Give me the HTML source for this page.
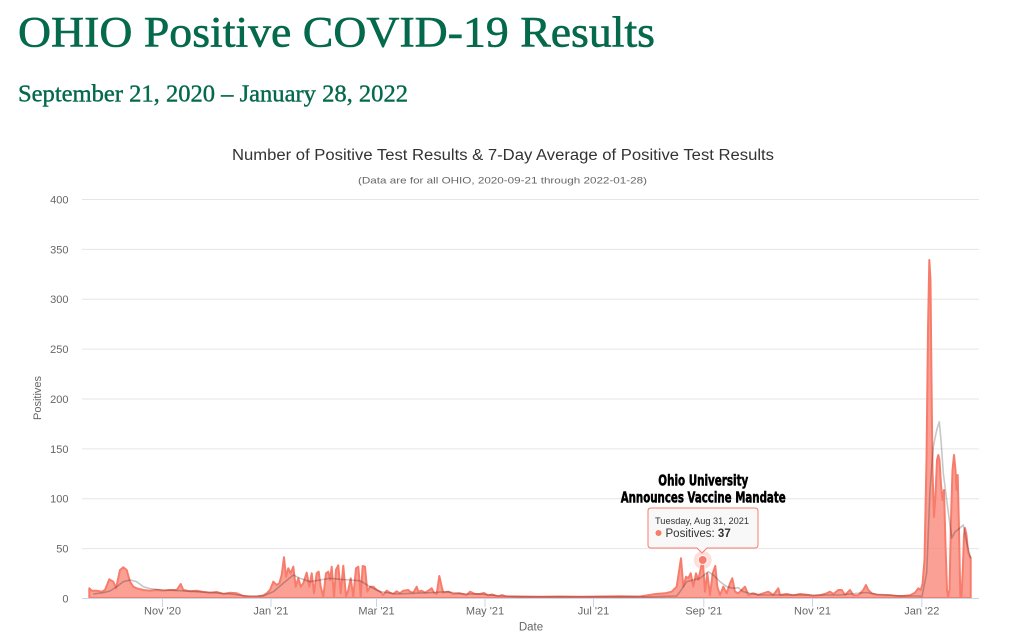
<!DOCTYPE html>
<html><head><meta charset="utf-8"><style>
html,body{margin:0;padding:0;background:#fff;}
svg{display:block;}
</style></head><body>
<svg width="1024" height="631" viewBox="0 0 1024 631" xmlns="http://www.w3.org/2000/svg">
<rect width="1024" height="631" fill="#fff"/>
<text x="18" y="46.5" font-family="Liberation Serif, serif" font-size="43" fill="#05694c" stroke="#05694c" stroke-width="0.6" textLength="637" lengthAdjust="spacingAndGlyphs">OHIO Positive COVID-19 Results</text>
<text x="18" y="101.7" font-family="Liberation Serif, serif" font-size="24" fill="#05694c" stroke="#05694c" stroke-width="0.4" textLength="390" lengthAdjust="spacingAndGlyphs">September 21, 2020 – January 28, 2022</text>

<text x="232" y="160" font-family="Liberation Sans, sans-serif" font-size="15.5" fill="#333" textLength="542" lengthAdjust="spacingAndGlyphs">Number of Positive Test Results &amp; 7-Day Average of Positive Test Results</text>
<text x="358" y="183.5" font-family="Liberation Sans, sans-serif" font-size="9.5" fill="#666" textLength="289" lengthAdjust="spacingAndGlyphs">(Data are for all OHIO, 2020-09-21 through 2022-01-28)</text>

<g stroke="#e6e6e6" stroke-width="1">
<line x1="82" x2="979" y1="199.5" y2="199.5"/>
<line x1="82" x2="979" y1="249.4" y2="249.4"/>
<line x1="82" x2="979" y1="299.2" y2="299.2"/>
<line x1="82" x2="979" y1="349.1" y2="349.1"/>
<line x1="82" x2="979" y1="399" y2="399"/>
<line x1="82" x2="979" y1="448.9" y2="448.9"/>
<line x1="82" x2="979" y1="498.7" y2="498.7"/>
<line x1="82" x2="979" y1="548.6" y2="548.6"/>
</g>
<g font-family="Liberation Sans, sans-serif" font-size="11" fill="#666" text-anchor="end">
<text x="68.5" y="203.5">400</text>
<text x="68.5" y="253.4">350</text>
<text x="68.5" y="303.2">300</text>
<text x="68.5" y="353.1">250</text>
<text x="68.5" y="403">200</text>
<text x="68.5" y="452.9">150</text>
<text x="68.5" y="502.7">100</text>
<text x="68.5" y="552.6">50</text>
<text x="68.5" y="602.5">0</text>
</g>
<text transform="translate(41,398) rotate(-90)" font-family="Liberation Sans, sans-serif" font-size="11" fill="#666" text-anchor="middle">Positives</text>

<!-- area series -->
<path fill="rgba(250,128,114,0.75)" stroke="#f87c6c" stroke-width="2" stroke-linejoin="round" d="M89.3,598 L89.3,588.3 L91.7,590.7 L96.7,590.7 L101.7,591.7 L105,590 L109.3,579.3 L113.3,581.7 L116,588.3 L120,570 L123.3,567.3 L126.7,570 L130,581.7 L133.3,586.7 L136.7,588.3 L143.3,590 L150,590.7 L156.7,590 L163.3,590.7 L170,590 L176.7,590 L180.7,584 L183.3,590 L190,591.3 L196.7,590.7 L203.3,592 L210,592.7 L216.7,592 L223.3,594 L230,592.7 L236.7,593.3 L243.3,596 L250,596.7 L256.7,596.7 L263.3,595.3 L266.7,593.3 L270,590 L273.3,581.7 L276.7,585 L279.3,583.3 L281.7,575 L284,557.3 L286,576.7 L288.3,568.3 L290.7,573.3 L293.3,566.7 L295.7,586.7 L298.3,578.3 L300.7,586.7 L303.3,583.3 L306.7,572.7 L309.3,586.7 L311.7,573.3 L314,593.3 L316.7,573.3 L318.7,571.7 L320.7,586.7 L323.3,596.7 L326,573.3 L328.3,571.7 L330,580 L331.7,566.7 L334,596.7 L336,570 L338.3,565.3 L340.7,593.3 L343.3,565.7 L346,596.7 L348.3,590 L350.7,578.3 L353.3,596.7 L356,568.3 L358.3,566.7 L360.7,596.7 L362.7,566 L365,566.7 L367.3,591.7 L370,586.7 L373.3,586.7 L376.7,590 L380,591.7 L383.3,595 L386.7,590.7 L390,592.7 L393.3,594 L396.7,591.3 L400,593.3 L403.3,590.7 L408.3,590 L410,591.7 L413.3,592.7 L416.7,586.7 L418.3,591.7 L421.7,590.7 L425,592.7 L428.3,590.7 L431.7,588.3 L434,592.7 L436.7,594 L439.3,576 L441.7,586.7 L443.3,592.7 L448.3,591.7 L453.3,594 L460,593.3 L466.7,595 L470,591.7 L475,594 L480,594 L484,593 L488,595.5 L492,594.5 L498,596.5 L502,595 L506,596.5 L520,596.5 L540,596.8 L560,596.5 L580,596.8 L600,596.5 L620,596.3 L640,596.5 L653.3,594.3 L665,593.3 L671.7,591.7 L676.7,586.7 L681,558.3 L683.3,586.7 L686,576.7 L688.3,578.3 L690.7,573.3 L693.3,586.7 L696,573.3 L698.3,580 L702.7,560 L705,591.7 L707.3,573.3 L710,595 L712.7,573.3 L715.3,566 L717.3,586.7 L720,595 L723.3,586.7 L726.7,593.3 L730,583.3 L732.3,578.3 L735,591.7 L738.3,593.3 L741.7,590 L745,586.7 L748.3,595 L753.3,593.3 L758.3,595 L763.3,593.3 L768.3,591.7 L773.3,595 L778.3,588.3 L780,595 L786.7,594 L793.3,595.3 L800,594 L806.7,594.7 L813.3,596 L820,595.3 L826.7,593.3 L830,591.7 L833.3,594 L838.3,590 L841.7,590 L845,595 L850,590 L853.3,595.3 L858.3,595.3 L863.3,590 L866,585 L868.3,590 L871.7,593.3 L876.7,595 L883.3,595.3 L890,595.3 L896.7,596 L903.3,596 L910,595.3 L915,592.7 L918.3,588.3 L920.7,590 L922.5,584 L924.5,560 L926.5,460 L928,330 L929.3,260 L930.5,280 L931.5,380 L932.5,470 L934,517 L935.5,495 L937,460 L938.3,455 L939.5,460 L941,485 L942.5,500 L944,490 L945.5,545 L947,590 L948,597 L949.5,590 L951,520 L952.5,470 L954,455 L955.5,470 L956.5,490 L957.7,475 L959,530 L960.3,596 L961.5,597 L962.8,570 L964,535 L965,528 L966.5,535 L968,552 L969.5,556 L970.7,558 L970.7,598 Z"/>

<!-- 7-day avg -->
<path fill="none" stroke="rgba(0,0,0,0.22)" stroke-width="1.6" stroke-linejoin="round" d="M93.3,594 L103.3,592.7 L110,591 L116.7,586.7 L123.3,581.7 L130,580 L136.7,581.7 L143.3,586.7 L150,588.7 L163.3,590 L180,590.7 L196.7,591.7 L213.3,592.7 L230,594 L246.7,596 L263.3,596 L273.3,591.7 L283.3,583.3 L293.3,575 L300,578.3 L310,581.7 L320,580 L330,578.3 L340,579.3 L350,580 L360,580.7 L370,586.7 L380,591.7 L396.7,594 L413.3,593.3 L430,592.7 L446.7,591.7 L463.3,594 L480,594 L500,596 L520,596.8 L600,596.8 L650,596.8 L676.7,596 L680,591.7 L686.7,581.7 L693.3,580 L700,578.3 L708.3,571.7 L713.3,575 L720,581.7 L726.7,586.7 L733.3,588.3 L738.3,587.7 L743.3,591.7 L750,593.3 L760,595 L773.3,595 L800,595 L840,595 L860,593 L866,592.5 L875,594 L900,596 L918,596 L922,596.5 L926.7,573 L930,490 L933.3,446.7 L936.7,430 L939.3,421.7 L941,440 L943.3,473 L946.7,500 L951.7,538 L955,532 L960,528 L963.3,525 L966.7,543 L970.7,558"/>

<!-- x axis -->
<line x1="82" x2="979" y1="598.5" y2="598.5" stroke="#ccd6eb" stroke-width="1"/>
<g stroke="#ccd6eb" stroke-width="1">
<line x1="162.5" x2="162.5" y1="598" y2="607"/>
<line x1="271" x2="271" y1="598" y2="607"/>
<line x1="376.5" x2="376.5" y1="598" y2="607"/>
<line x1="485" x2="485" y1="598" y2="607"/>
<line x1="593.5" x2="593.5" y1="598" y2="607"/>
<line x1="703.8" x2="703.8" y1="598" y2="607"/>
<line x1="812.5" x2="812.5" y1="598" y2="607"/>
<line x1="921.8" x2="921.8" y1="598" y2="607"/>
</g>
<g font-family="Liberation Sans, sans-serif" font-size="11" fill="#666" text-anchor="middle">
<text x="162.5" y="614.5">Nov '20</text>
<text x="271" y="614.5">Jan '21</text>
<text x="376.5" y="614.5">Mar '21</text>
<text x="485" y="614.5">May '21</text>
<text x="593.5" y="614.5">Jul '21</text>
<text x="703.8" y="614.5">Sep '21</text>
<text x="812.5" y="614.5">Nov '21</text>
<text x="921.8" y="614.5">Jan '22</text>
</g>
<text x="531" y="630.5" font-family="Liberation Sans, sans-serif" font-size="11.5" fill="#666" text-anchor="middle">Date</text>

<!-- annotation -->
<text x="658.3" y="485.7" font-family="Liberation Sans Narrow, DejaVu Sans Condensed, Liberation Sans, sans-serif" font-weight="bold" font-size="15" fill="#000" stroke="#000" stroke-width="0.5" textLength="90" lengthAdjust="spacingAndGlyphs">Ohio University</text>
<text x="620.7" y="502.7" font-family="Liberation Sans Narrow, DejaVu Sans Condensed, Liberation Sans, sans-serif" font-weight="bold" font-size="15" fill="#000" stroke="#000" stroke-width="0.5" textLength="165" lengthAdjust="spacingAndGlyphs">Announces Vaccine Mandate</text>

<!-- marker -->
<circle cx="702.7" cy="560" r="9" fill="rgba(250,128,114,0.25)"/>
<circle cx="702.7" cy="560" r="4.5" fill="#f87c6c" stroke="#fff" stroke-width="1"/>

<!-- tooltip -->
<path d="M651,508 L755,508 Q758,508 758,511 L758,545 Q758,548 755,548 L707,548 L702,553 L697,548 L651,548 Q648,548 648,545 L648,511 Q648,508 651,508 Z" fill="rgba(247,247,247,0.9)" stroke="#f87c6c" stroke-width="1"/>
<text x="655" y="524" font-family="Liberation Sans, sans-serif" font-size="9.5" fill="#333" textLength="94" lengthAdjust="spacingAndGlyphs">Tuesday, Aug 31, 2021</text>
<circle cx="658.5" cy="533" r="3" fill="#f87c6c"/>
<text x="665.5" y="537" font-family="Liberation Sans, sans-serif" font-size="11.5" fill="#333">Positives: <tspan font-weight="bold">37</tspan></text>
</svg>
</body></html>
